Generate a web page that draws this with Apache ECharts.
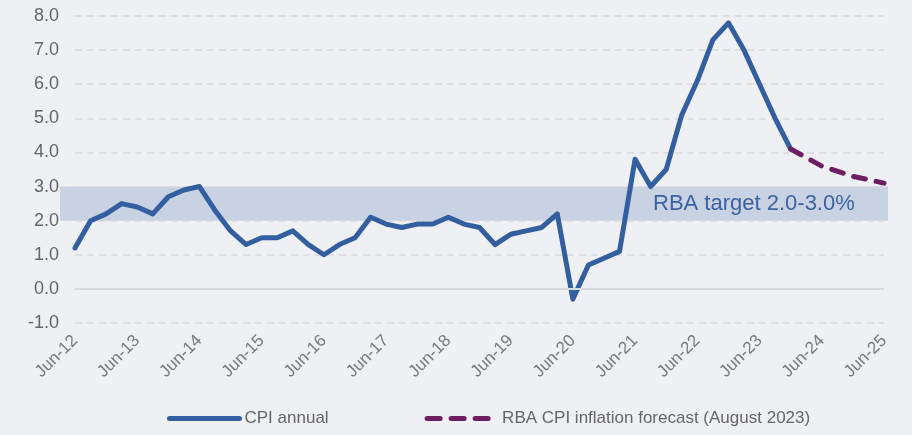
<!DOCTYPE html>
<html>
<head>
<meta charset="utf-8">
<script src="https://cdn.jsdelivr.net/npm/echarts@6/dist/echarts.min.js"></script>
<style>
    html, body { margin: 0; padding: 0; background: #eff0f4; }
    #chart { width: 912px; height: 435px; }
</style>
</head>
<body>
<div id="chart"></div>
<script>
const quarters = [
    'Jun-12', 'Sep-12', 'Dec-12', 'Mar-13', 'Jun-13', 'Sep-13', 'Dec-13', 'Mar-14',
    'Jun-14', 'Sep-14', 'Dec-14', 'Mar-15', 'Jun-15', 'Sep-15', 'Dec-15', 'Mar-16',
    'Jun-16', 'Sep-16', 'Dec-16', 'Mar-17', 'Jun-17', 'Sep-17', 'Dec-17', 'Mar-18',
    'Jun-18', 'Sep-18', 'Dec-18', 'Mar-19', 'Jun-19', 'Sep-19', 'Dec-19', 'Mar-20',
    'Jun-20', 'Sep-20', 'Dec-20', 'Mar-21', 'Jun-21', 'Sep-21', 'Dec-21', 'Mar-22',
    'Jun-22', 'Sep-22', 'Dec-22', 'Mar-23', 'Jun-23', 'Sep-23', 'Dec-23', 'Mar-24',
    'Jun-24', 'Sep-24', 'Dec-24', 'Mar-25', 'Jun-25'
];

// CPI annual, Jun-12 .. Dec-23
const cpiAnnual = [
    1.2, 2.0, 2.2, 2.5, 2.4, 2.2, 2.7, 2.9,
    3.0, 2.3, 1.7, 1.3, 1.5, 1.5, 1.7, 1.3,
    1.0, 1.3, 1.5, 2.1, 1.9, 1.8, 1.9, 1.9,
    2.1, 1.9, 1.8, 1.3, 1.6, 1.7, 1.8, 2.2,
    -0.3, 0.7, 0.9, 1.1, 3.8, 3.0, 3.5, 5.1,
    6.1, 7.3, 7.8, 7.0, 6.0, 5.0, 4.1
];

// RBA forecast (Aug 2023), from Dec-23, half-yearly points
const forecastFrom = 'Dec-23';
const forecast = [4.1, null, 3.6, null, 3.3, null, 3.1];

const targetBand = [2.0, 3.0];
const targetLabel = 'RBA target 2.0-3.0%';

const yTicks = { min: -1, max: 8, interval: 1 };

const BLUE = '#335e9f';
const PURPLE = '#6c1e61';
const BG = '#eff0f4';
const FONT = '"Liberation Sans", Arial, sans-serif';

const pad = (arr, len) => arr.concat(new Array(Math.max(0, len - arr.length)).fill(null));
const startIdx = quarters.indexOf(forecastFrom);
const forecastData = pad(new Array(startIdx).fill(null).concat(forecast), quarters.length);
const cpiData = pad(cpiAnnual, quarters.length);

const chart = echarts.init(document.getElementById('chart'), null, { renderer: 'canvas' });

const option = {
    backgroundColor: BG,
    animation: false,
    grid: { left: 75, right: 28, top: 16, bottom: 112 },
    xAxis: {
        type: 'category',
        data: quarters,
        boundaryGap: false,
        axisLine: { show: false },
        axisTick: { show: false },
        splitLine: { show: false },
        axisLabel: {
            interval: 3,
            rotate: 45,
            margin: 15,
            color: '#7a7a7a',
            fontSize: 17,
            fontFamily: FONT,
        },
    },
    yAxis: {
        type: 'value',
        min: yTicks.min,
        max: yTicks.max,
        interval: yTicks.interval,
        axisLine: { show: false },
        axisTick: { show: false },
        axisLabel: {
            margin: 16,
            color: '#666',
            fontSize: 18,
            fontFamily: FONT,
            formatter: v => v.toFixed(1),
        },
        splitLine: {
            show: true,
            lineStyle: {
                color: '#d8d9dc',
                width: 1.5,
                type: [7, 5],
            },
        },
    },
    legend: {
        left: 162,
        top: 405,
        itemWidth: 70,
        itemHeight: 14,
        itemGap: 96,
        itemStyle: { opacity: 0 },
        lineStyle: { width: 5, cap: 'round' },
        textStyle: {
            color: '#666',
            fontSize: 17,
            fontFamily: FONT,
        },
        data: [
            { name: 'CPI annual' },
            {
                name: 'RBA CPI inflation forecast (August 2023)',
                lineStyle: { width: 5, cap: 'round', type: [13, 11] },
            },
        ],
    },
    series: [
        {
            name: 'CPI annual',
            type: 'line',
            data: cpiData,
            showSymbol: false,
            symbol: 'none',
            z: 3,
            color: BLUE,
            lineStyle: { color: BLUE, width: 5, cap: 'round', join: 'round' },
            markLine: {
                silent: true,
                symbol: 'none',
                label: { show: false },
                lineStyle: { color: '#d8d9dc', width: 2, type: 'solid' },
                data: [{ yAxis: 0 }],
            },
        },
        {
            name: 'RBA CPI inflation forecast (August 2023)',
            type: 'line',
            data: forecastData,
            connectNulls: true,
            showSymbol: false,
            symbol: 'none',
            z: 4,
            color: PURPLE,
            lineStyle: { color: PURPLE, width: 5, type: [12, 11], cap: 'round', join: 'round' },
        },
    ],
};

chart.setOption(option);

// target band + label, placed with the y axis scale
const yTop = chart.convertToPixel({ yAxisIndex: 0 }, targetBand[1]);
const yBot = chart.convertToPixel({ yAxisIndex: 0 }, targetBand[0]);
chart.setOption({
    graphic: [
        {
            type: 'rect',
            z: -1,
            silent: true,
            shape: { x: 60, y: yTop, width: 828, height: yBot - yTop },
            style: { fill: '#c9d2e2' },
        },
        {
            type: 'text',
            z: 10,
            silent: true,
            x: 653,
            y: (yTop + yBot) / 2,
            style: {
                text: targetLabel,
                fill: '#3b63a2',
                fontSize: 22,
                fontFamily: FONT,
                verticalAlign: 'middle',
                align: 'left',
            },
        },
    ],
});
</script>
</body>
</html>
